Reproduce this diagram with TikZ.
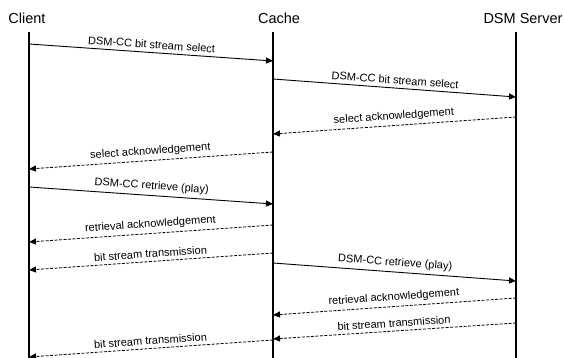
\documentclass[tikz,border=0pt]{standalone}
\usepackage{fontspec}
\setmainfont{Liberation Sans}
\usepackage{tikz}
\usetikzlibrary{arrows.meta, calc}
\tikzset{
    party/.style={anchor=base, font=\fontsize{14.5}{16}\selectfont, inner sep=0pt},
    lifeline/.style={line width=1.2pt, draw=black},
    msg/.style={-{Triangle[length=7pt, width=6pt]}, line width=0.9pt, draw=black},
    reply/.style={msg, line width=0.8pt, dash pattern=on 3pt off 1.5pt},
    lbl/.style={midway, above, sloped, inner sep=3.5pt, font=\fontsize{11}{13}\selectfont}
}

\begin{document}
\begin{tikzpicture}[x=1pt, y=-1pt]
    \useasboundingbox (0,0) rectangle (564,358);
    % parties and lifelines
    \node[party] (client) at (27,24) {Client};
    \node[party] (cache) at (279,24) {Cache};
    \node[party] (server) at (523,24) {DSM Server};
    \coordinate (cl) at (29,32);
    \coordinate (ca) at (273,32);
    \coordinate (sv) at (516,32);
    \draw[lifeline] (cl) -- (cl |- 0,358);
    \draw[lifeline] (ca) -- (ca |- 0,358);
    \draw[lifeline] (sv) -- (sv |- 0,358);
    % select
    \draw[msg] (cl |- 0,44) -- (ca |- 0,61) node[lbl] {DSM-CC bit stream select};
    \draw[msg] (ca |- 0,79) -- (sv |- 0,97) node[lbl] {DSM-CC bit stream select};
    \draw[reply] (sv |- 0,117) -- (ca |- 0,134) node[lbl] {select acknowledgement};
    \draw[reply] (ca |- 0,152) -- (cl |- 0,169) node[lbl] {select acknowledgement};
    % retrieve
    \draw[msg] (cl |- 0,187) -- (ca |- 0,204) node[lbl] {DSM-CC retrieve (play)};
    \draw[reply] (ca |- 0,225) -- (cl |- 0,242) node[lbl] {retrieval acknowledgement};
    \draw[reply] (ca |- 0,253) -- (cl |- 0,270) node[lbl] {bit stream transmission};
    \draw[msg] (ca |- 0,263) -- (sv |- 0,281) node[lbl] {DSM-CC retrieve (play)};
    \draw[reply] (sv |- 0,298) -- (ca |- 0,315) node[lbl] {retrieval acknowledgement};
    \draw[reply] (sv |- 0,323) -- (ca |- 0,339) node[lbl] {bit stream transmission};
    \draw[reply] (ca |- 0,340) -- (cl |- 0,357) node[lbl] {bit stream transmission};
\end{tikzpicture}
\end{document}
